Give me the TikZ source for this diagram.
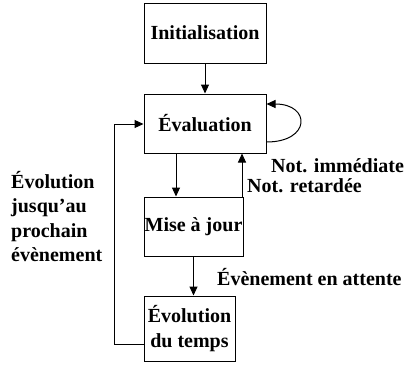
\documentclass[tikz,border=0pt]{standalone}
\usepackage{fontspec}
\setmainfont{Liberation Serif}
\usetikzlibrary{arrows.meta}
\begin{document}
\begin{tikzpicture}[x=1pt,y=-1pt,
  box/.style={draw,line width=1pt,inner sep=0pt,font=\bfseries\fontsize{20}{24.5}\selectfont},
  lbl/.style={inner sep=0pt,font=\bfseries\fontsize{20}{24.5}\selectfont},
  flow/.style={line width=1pt,-{Triangle[length=9pt,width=8pt]}}]
\useasboundingbox (0,0) rectangle (404,380);
\node[box,minimum width=122pt,minimum height=60pt] (init) at (205,33) {Initialisation};
\node[box,minimum width=122pt,minimum height=59pt] (eval) at (205,123.5) {Évaluation};
\node[box,minimum width=99pt,minimum height=59pt] (maj) at (193.5,226.5) {Mise à jour};
\node[box,minimum width=91pt,minimum height=65pt,align=center] (evol) at (189.5,328.5) {Évolution\\du temps};
\coordinate (down) at (176,0);
\coordinate (up) at (242,0);
\coordinate (lpath) at (114,0);
\coordinate (loopout) at (0,142);
\coordinate (loopin) at (0,104);
\coordinate (back) at (0,344);
\coordinate (backin) at (0,124);
% main flow
\draw[flow] (init) -- (eval);
\draw[flow] (eval.south -| down) -- (maj.north -| down);
\draw[flow] (maj.north -| up) -- (eval.south -| up);
\draw[flow] (maj) -- (maj.south |- evol.north);
% immediate notification loop
\draw[flow] (eval.east |- loopout) .. controls (311,142) and (311,104) .. (eval.east |- loopin);
% time advance back to evaluation
\draw[flow] (evol.west |- back) -- (lpath |- back) -- (lpath |- backin) -- (eval.west |- backin);
% labels
\node[lbl,anchor=west] (nimm) at (271,166) {Not. immédiate};
\node[lbl,anchor=west] (nret) at (247,186) {Not. retardée};
\node[lbl,anchor=west] (natt) at (217,277) {Évènement en attente};
\node[lbl,anchor=west,align=left] (nevo) at (11,216.5) {Évolution\\jusqu’au\\prochain\\évènement};
\end{tikzpicture}
\end{document}
